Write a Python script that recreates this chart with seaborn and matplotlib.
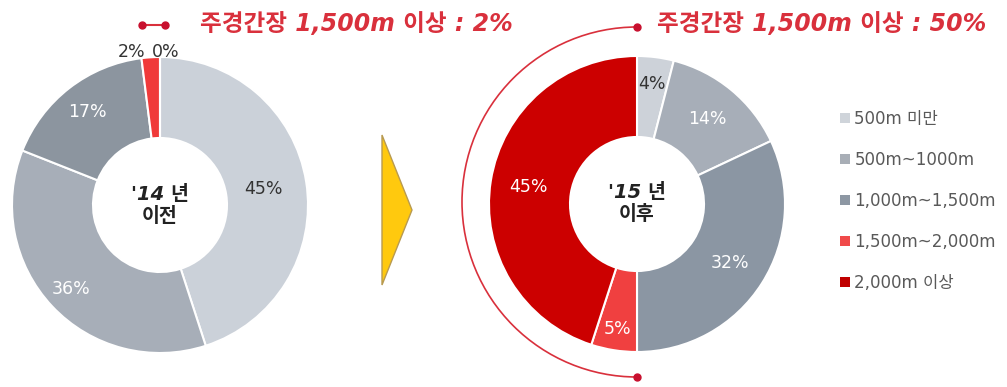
import matplotlib
matplotlib.use("Agg")
import matplotlib.pyplot as plt
import seaborn as sns
import numpy as np
from matplotlib.patches import Patch, Arc, Polygon

sns.set_theme(style="white")
plt.rcParams['font.family'] = ['DejaVu Sans', 'Noto Sans CJK KR']

# Span-length categories and shares (%)
categories = ["500m 미만", "500m~1000m", "1,000m~1,500m", "1,500m~2,000m", "2,000m 이상"]
share_before_2014 = [45, 36, 17, 2, 0]
share_after_2015 = [4, 14, 32, 5, 45]
legend_colors = ["#cfd4da", "#a8aeb6", "#8d97a3", "#f04a4a", "#c00000"]
colors_before = ["#cbd1d9", "#a7aeb8", "#8c959f", "#f03a3a", "#c00000"]
colors_after = ["#cdd2d9", "#a7aeb8", "#8b96a3", "#f04040", "#cc0000"]
label_colors_before = ["#333333", "white", "white", "#333333", "#333333"]
label_colors_after = ["#333333", "white", "white", "white", "white"]
headline_before = "주경간장 1,500m 이상 : 2%"
headline_after = "주경간장 1,500m 이상 : 50%"
center_before = "'14 년\n이전"
center_after = "'15 년\n이후"

W, H = 1007, 387
fig = plt.figure(figsize=(W / 100, H / 100), dpi=100)
ax = fig.add_axes([0, 0, 1, 1])


def py(y):
    return H - y

R_OUT, R_IN = 148, 67
RED = "#d9303c"
LABEL_SIZE = 12.5


def donut(values, colors, center, label_r, label_colors):
    wedges, _ = ax.pie(values, colors=colors, startangle=90, counterclock=False,
                       center=center, radius=R_OUT, normalize=True,
                       wedgeprops=dict(width=R_OUT - R_IN, edgecolor="white", linewidth=1.5))
    for i, (w, v) in enumerate(zip(wedges, values)):
        mid = np.deg2rad((w.theta1 + w.theta2) / 2)
        r = label_r[i]
        if r is None:
            continue
        x = center[0] + r * np.cos(mid)
        y = center[1] + r * np.sin(mid)
        ax.text(x, y, f"{v}%", ha="center", va="center", fontsize=LABEL_SIZE,
                color=label_colors[i])
    return wedges


c1 = (160, py(205))
c2 = (637, py(204))

donut(share_before_2014, colors_before, c1, [105, 122, 118, None, None], label_colors_before)
donut(share_after_2015, colors_after, c2, [121, 110, 110, 127, 110], label_colors_after)

# pie() resets the view, so fix the pixel-sized canvas afterwards
ax.set_xlim(0, W)
ax.set_ylim(0, H)
ax.set_aspect("equal")
ax.axis("off")

# Small shares sit above the first ring
ax.text(132, py(52), f"{share_before_2014[3]}%", ha="center", va="center",
        fontsize=LABEL_SIZE, color="#333333")
ax.text(166, py(52), f"{share_before_2014[4]}%", ha="center", va="center",
        fontsize=LABEL_SIZE, color="#333333")

# Centre captions
ax.text(c1[0], c1[1], center_before, ha="center", va="center", fontsize=14,
        fontweight="bold", style="italic", color="#222222", linespacing=1.2)
ax.text(c2[0], c2[1], center_after, ha="center", va="center", fontsize=14,
        fontweight="bold", style="italic", color="#222222", linespacing=1.2)

# Headlines
ax.text(200, py(24), headline_before, ha="left", va="center", fontsize=17,
        color=RED, style="italic", fontweight="bold")
ax.text(657, py(24), headline_after, ha="left", va="center", fontsize=17,
        color=RED, style="italic", fontweight="bold")

# Connector marks
ax.plot([142, 165], [py(25), py(25)], color=RED, lw=1.5)
ax.plot([142, 165], [py(25), py(25)], "o", color="#c8102e", ms=5)
arc_r = 175
ax.add_patch(Arc((637, py(202)), 2 * arc_r, 2 * arc_r, theta1=90, theta2=270,
                 color=RED, lw=1.2))
ax.plot([637, 637], [py(27), py(377)], "o", color="#c8102e", ms=5)

# Transition arrow
ax.add_patch(Polygon([(382, py(135)), (412, py(210)), (382, py(285))], closed=True,
                     facecolor="#ffc90e", edgecolor="#b89a50", lw=1))

# Legend
handles = [Patch(facecolor=c, edgecolor="none") for c in legend_colors]
leg = ax.legend(handles, categories, loc="upper left", bbox_to_anchor=(832 / W, 1 - 102 / H),
                frameon=False, fontsize=12, labelcolor="#595959", handlelength=0.55,
                handleheight=0.55, handletextpad=0.3, labelspacing=1.38, borderpad=0)

fig.savefig("out.png", dpi=100)
